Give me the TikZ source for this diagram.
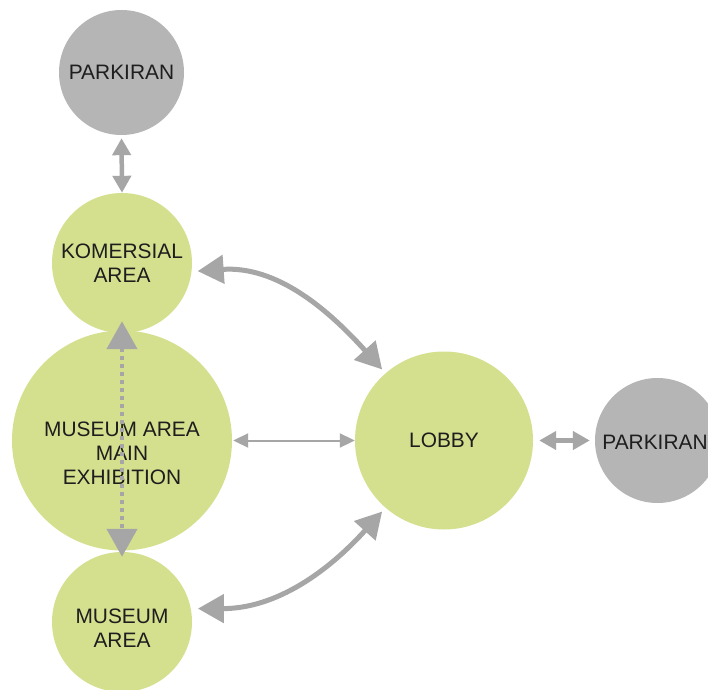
\documentclass[tikz,border=0pt]{standalone}
\usepackage{fontspec}
\setmainfont{Liberation Sans}
\usetikzlibrary{arrows.meta}
\definecolor{zgreen}{RGB}{213,224,143}
\definecolor{zgrey}{RGB}{181,181,181}
\definecolor{zarrow}{RGB}{166,166,166}
\definecolor{ztext}{RGB}{30,30,30}
\begin{document}
\begin{tikzpicture}[x=1pt,y=1pt,
  txt/.style={font=\fontsize{20.9}{24}\selectfont, text=ztext, align=center},
  greencirc/.style={circle, fill=zgreen, draw=none, inner sep=0pt, txt},
  greycirc/.style={circle, fill=zgrey, draw=none, inner sep=0pt, minimum size=125pt, txt},
  bigarr/.style={draw=zarrow, line width=5pt, {Triangle[length=26pt,width=28pt]}-{Triangle[length=26pt,width=28pt]}},
  smallarr/.style={draw=zarrow, line width=4.5pt, {Triangle[length=17pt,width=18pt]}-{Triangle[length=17pt,width=18pt]}},
  thinarr/.style={draw=zarrow, line width=2pt, {Triangle[length=15pt,width=14pt]}-{Triangle[length=15pt,width=14pt]}},
  dotarr/.style={draw=zarrow, line width=4.5pt, dash pattern=on 4pt off 4pt, {Triangle[length=28pt,width=30pt]}-{Triangle[length=28pt,width=30pt]}}
]
\useasboundingbox (0,0) rectangle (708,689);
\fill[white] (0,0) rectangle (708,689);

\node[greycirc] (park1) at (121.5,616.5) {PARKIRAN};
\node[greencirc, minimum size=140pt] (kom) at (122,426) {KOMERSIAL\\AREA};
\node[greencirc, minimum size=220pt] (main) at (122,248.5) {};
\node[txt] (mainT) at (122,236) {MUSEUM AREA\\MAIN\\EXHIBITION};
\node[greencirc, minimum size=140pt] (mus) at (122,67) {};
\node[txt] (musT) at (122,61) {MUSEUM\\AREA};
\node[greencirc, minimum size=178pt] (lobby) at (444,248.5) {LOBBY};
\node[greycirc] (park2) at (657.5,248.5) {};
\node[txt] (park2T) at (655,247) {PARKIRAN};

\draw[smallarr, shorten <=3pt] (park1.south) -- (kom.north);
\draw[bigarr, shorten <=6pt, shorten >=5pt] (kom.-7) to[out=4, in=132] (lobby.131);
\draw[bigarr, shorten <=7pt, shorten >=5pt] (mus.11) to[out=0, in=228] (lobby.229);
\draw[thinarr, shorten <=1pt] (main.east) -- (lobby.west);
\draw[smallarr, shorten <=6pt, shorten >=5pt] (lobby.east) -- (park2.west);
\draw[dotarr] ([yshift=12pt]kom.south) -- ([yshift=-5pt]mus.north);
\end{tikzpicture}
\end{document}
